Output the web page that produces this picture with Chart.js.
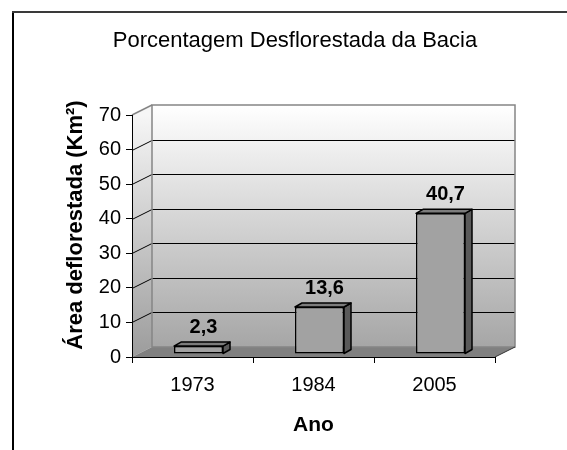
<!DOCTYPE html>
<html><head><meta charset="utf-8">
<script src="https://cdn.jsdelivr.net/npm/chart.js@4/dist/chart.umd.min.js"></script>
<style>html,body{margin:0;padding:0;background:#fff;}canvas{display:block;}</style>
</head><body>
<canvas id="c" width="567" height="450"></canvas>
<script>
const categories = ['1973', '1984', '2005'];
const values = [2.3, 13.6, 40.7];
const valueLabels = ['2,3', '13,6', '40,7'];
const yTicks = [0, 10, 20, 30, 40, 50, 60, 70];
const chartTitle = 'Porcentagem Desflorestada da Bacia';
const yTitle = 'Área deflorestada (Km²)';
const xTitle = 'Ano';

const FONT = "'Liberation Sans', Arial, sans-serif";
const DX = 20, DY = -10;   // wall depth
const BX = 6, BY = -3;     // bar front plane offset
const SX = 7, SY = -4;     // bar depth

Chart.defaults.font.family = FONT;
Chart.defaults.color = '#000';

function poly(ctx, pts) {
  ctx.beginPath();
  ctx.moveTo(pts[0][0], pts[0][1]);
  for (let i = 1; i < pts.length; i++) ctx.lineTo(pts[i][0], pts[i][1]);
  ctx.closePath();
}

const threeD = {
  id: 'threeD',
  beforeDraw(chart) {
    const ctx = chart.ctx, x = chart.scales.x, y = chart.scales.y;
    const L = x.left, R = x.right;
    const T = y.getPixelForValue(yTicks[yTicks.length - 1]);
    const B = y.getPixelForValue(yTicks[0]);
    ctx.save();
    // back wall
    let g = ctx.createLinearGradient(0, T + DY, 0, B + DY);
    g.addColorStop(0, '#ffffff');
    g.addColorStop(1, '#a6a6a6');
    ctx.fillStyle = g;
    ctx.fillRect(L + DX, T + DY, R - L, B - T);
    // left wall
    let g2 = ctx.createLinearGradient(0, T, 0, B);
    g2.addColorStop(0, '#f6f6f6');
    g2.addColorStop(1, '#9c9c9c');
    ctx.fillStyle = g2;
    poly(ctx, [[L, T], [L + DX, T + DY], [L + DX, B + DY], [L, B]]);
    ctx.fill();
    // floor
    ctx.fillStyle = '#808080';
    poly(ctx, [[L, B], [L + DX, B + DY], [R + DX, B + DY], [R, B]]);
    ctx.fill();
    // gridlines
    ctx.strokeStyle = '#000';
    ctx.lineWidth = 1;
    for (let i = 1; i < yTicks.length - 1; i++) {
      const py = Math.round(y.getPixelForValue(yTicks[i])) + 0.5;
      ctx.beginPath();
      ctx.moveTo(L, py);
      ctx.lineTo(L + DX, py + DY);
      ctx.lineTo(R + DX, py + DY);
      ctx.stroke();
    }
    // outlines
    ctx.strokeStyle = '#858585';
    ctx.lineWidth = 1.5;
    ctx.strokeRect(L + DX, T + DY, R - L, B - T);
    ctx.beginPath();
    ctx.moveTo(L, T); ctx.lineTo(L + DX, T + DY);
    ctx.stroke();
    ctx.strokeStyle = '#333';
    ctx.lineWidth = 1;
    ctx.beginPath();
    ctx.moveTo(R, B); ctx.lineTo(R + DX, B + DY);
    ctx.stroke();
    ctx.restore();
  },
  beforeDatasetsDraw(chart) {
    chart.ctx.save();
    chart.ctx.translate(BX, BY);
  },
  afterDatasetsDraw(chart) {
    const ctx = chart.ctx;
    const meta = chart.getDatasetMeta(0);
    meta.data.forEach((el) => {
      const hw = el.width / 2, xl = el.x - hw, xr = el.x + hw, top = el.y, base = el.base;
      ctx.lineWidth = 1.5;
      ctx.strokeStyle = '#000';
      ctx.lineJoin = 'round';
      // side face
      ctx.fillStyle = '#5a5a5a';
      poly(ctx, [[xr, top], [xr + SX, top + SY], [xr + SX, base + SY], [xr, base]]);
      ctx.fill(); ctx.stroke();
      // top face
      ctx.fillStyle = '#7c7c7c';
      poly(ctx, [[xl, top], [xl + SX, top + SY], [xr + SX, top + SY], [xr, top]]);
      ctx.fill(); ctx.stroke();
    });
    ctx.restore();
    // value labels
    ctx.save();
    ctx.fillStyle = '#000';
    ctx.font = 'bold 20px ' + FONT;
    ctx.textAlign = 'center';
    ctx.textBaseline = 'alphabetic';
    meta.data.forEach((el, i) => {
      ctx.fillText(valueLabels[i], el.x + BX + 5, el.y + BY - 13);
    });
    ctx.restore();
  },
  afterDraw(chart) {
    const ctx = chart.ctx, y = chart.scales.y;
    ctx.save();
    // y axis title
    ctx.translate(76, (y.top + y.bottom) / 2 - 11);
    ctx.rotate(-Math.PI / 2);
    ctx.font = 'bold 22px ' + FONT;
    ctx.textAlign = 'center';
    ctx.textBaseline = 'middle';
    ctx.fillStyle = '#000';
    ctx.fillText(yTitle, 0, 0);
    ctx.restore();
    // outer frame
    ctx.save();
    ctx.fillStyle = '#000';
    ctx.fillRect(12, 11, 2, chart.height - 11);
    ctx.fillStyle = '#3a3a3a';
    ctx.fillRect(12, 11, chart.width - 12, 2);
    ctx.restore();
  }
};

new Chart(document.getElementById('c'), {
  type: 'bar',
  data: {
    labels: categories,
    datasets: [{
      data: values,
      backgroundColor: '#a2a2a2',
      borderColor: '#000',
      borderWidth: 1.5,
      borderSkipped: false,
      categoryPercentage: 1,
      barPercentage: 0.405
    }]
  },
  options: {
    responsive: false,
    animation: false,
    devicePixelRatio: 1,
    layout: { padding: { left: 95, right: 72, top: 0, bottom: 0 } },
    plugins: {
      legend: { display: false },
      tooltip: { enabled: false },
      title: {
        display: true,
        text: chartTitle,
        color: '#000',
        font: { size: 22, weight: 'normal' },
        padding: { top: 28, bottom: 60.6 }
      }
    },
    scales: {
      x: {
        afterFit(s) { s.height = 93; },
        grid: { display: true, drawOnChartArea: false, drawTicks: true, tickLength: 6, color: '#000', offset: true },
        border: { display: true, color: '#000', width: 1 },
        ticks: { font: { size: 20 }, color: '#000', padding: 10 },
        title: { display: true, text: xTitle, color: '#000', font: { size: 21, weight: 'bold' }, padding: { top: 0, bottom: 12 } }
      },
      y: {
        min: yTicks[0],
        max: yTicks[yTicks.length - 1],
        afterFit(s) { s.width = 37; },
        afterBuildTicks(s) { s.ticks = yTicks.map(v => ({ value: v })); },
        grid: { display: true, drawOnChartArea: false, drawTicks: true, tickLength: 6, color: '#000' },
        border: { display: true, color: '#000', width: 1 },
        ticks: { font: { size: 20 }, color: '#000', padding: 5 }
      }
    }
  },
  plugins: [threeD]
});
</script>
</body></html>
